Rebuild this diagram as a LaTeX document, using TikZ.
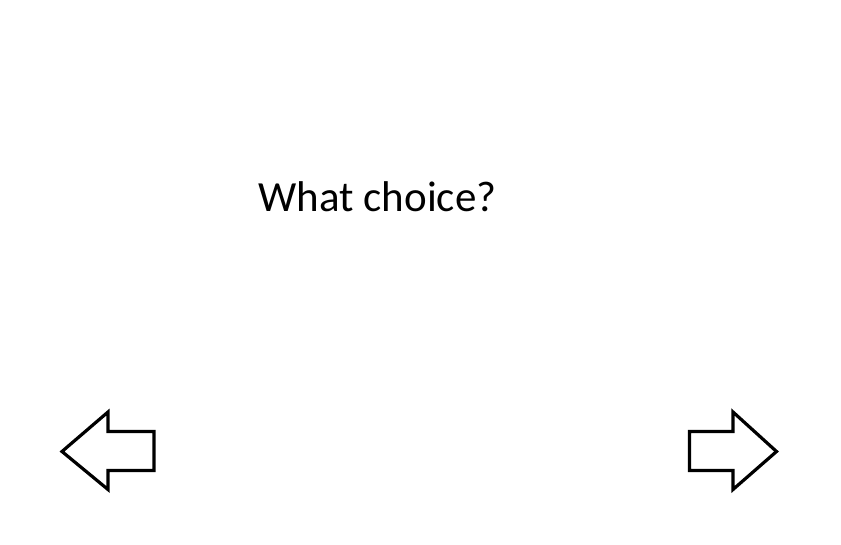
\documentclass[tikz,border=0pt]{standalone}
\usepackage{fontspec}
\setmainfont{Carlito}
\usepackage{tikz}
\usetikzlibrary{positioning}

\begin{document}
\begin{tikzpicture}[
   x=1pt, y=-1pt,
   navarrow/.style={draw=black, line width=3.2pt, miter limit=10, fill=white},
   question/.style={font=\fontsize{43}{50}\selectfont, inner sep=0pt, anchor=base}]
  \useasboundingbox (0,0) rectangle (841,544);
  \node[question] (ask) at (377.5,211.5) {What choice?};
  % Back arrow
  \draw[navarrow] (62,451.5) -- (108,412) -- (108,431.5) -- (154,431.5)
    -- (154,470.5) -- (108,470.5) -- (108,489.5) -- cycle;
  % Forward arrow
  \draw[navarrow] (776.5,451.5) -- (733,412) -- (733,431.5) -- (689.5,431.5)
    -- (689.5,470.5) -- (733,470.5) -- (733,489.5) -- cycle;
\end{tikzpicture}
\end{document}
